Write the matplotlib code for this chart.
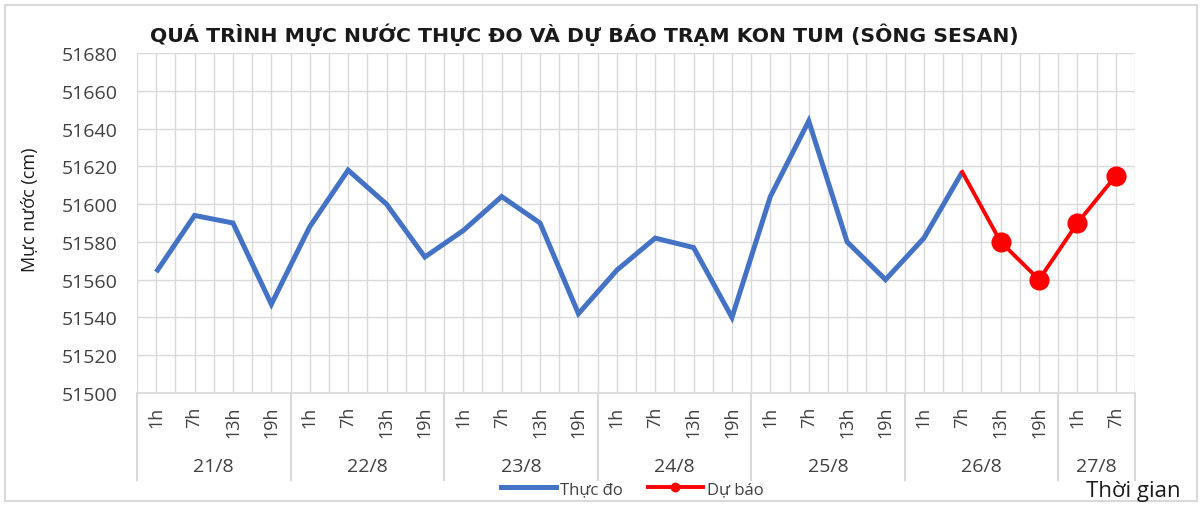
import matplotlib
matplotlib.use('Agg')
import matplotlib.pyplot as plt
import matplotlib.transforms as mtransforms
from matplotlib.lines import Line2D
from matplotlib.patches import Rectangle
import numpy as np

plt.rcParams['font.family'] = ['Open Sans', 'DejaVu Sans']

# ---- data ----
days = ['21/8', '22/8', '23/8', '24/8', '25/8', '26/8', '27/8']
hours_per_day = [4, 4, 4, 4, 4, 4, 2]
hours = ['1h', '7h', '13h', '19h'] * 6 + ['1h', '7h']
observed = [51564, 51594, 51590, 51547,
            51588, 51618, 51600, 51572,
            51586, 51604, 51590, 51542,
            51565, 51582, 51577, 51540,
            51604, 51644, 51580, 51560,
            51582, 51617]
forecast = [51617, 51580, 51560, 51590, 51615]   # starts at 26/8 7h
forecast_start = 21

title = 'QUÁ TRÌNH MỰC NƯỚC THỰC ĐO VÀ DỰ BÁO TRẠM KON TUM (SÔNG SESAN)'
ylabel = 'Mực nước (cm)'
xlabel = 'Thời gian'
legend_labels = ['Thực đo', 'Dự báo']

blue = '#4472C4'
red = '#FF0000'
grid_c = '#D9D9D9'
text_c = '#404040'

W, H = 1203, 506
fig = plt.figure(figsize=(W / 100, H / 100), dpi=100)
left, right, top, bottom = 137, 1135, 54, 394
ax = fig.add_axes([left / W, 1 - bottom / H, (right - left) / W, (bottom - top) / H])

n = len(hours)
ax.set_xlim(-0.5, n - 0.5)
ax.set_ylim(51500, 51680)
ax.set_yticks(np.arange(51500, 51681, 20))

ax.set_xticks(np.arange(n))
ax.set_xticklabels(hours, rotation=90, va='top', ha='center', fontsize=13, color=text_c)
ax.set_xticks(np.arange(-0.5, n, 1.0), minor=True)
ax.tick_params(axis='x', which='both', length=0, pad=9)
ax.tick_params(axis='y', length=0, pad=14, labelsize=14, labelcolor=text_c)

ax.grid(True, which='both', axis='x', color=grid_c, lw=1.0)
ax.grid(True, which='major', axis='y', color=grid_c, lw=1.0)
ax.set_axisbelow(True)
for s in ['top', 'right', 'left']:
    ax.spines[s].set_visible(False)
ax.spines['bottom'].set_color(grid_c)
ax.spines['bottom'].set_linewidth(1.2)

ax.plot(np.arange(len(observed)), observed, color=blue, lw=3.6, solid_joinstyle='miter',
        solid_capstyle='butt', zorder=3)
fx = np.arange(forecast_start, forecast_start + len(forecast))
ax.plot(fx, forecast, color=red, lw=2.8, marker='o', markersize=13.5,
        markevery=list(range(1, len(forecast))), zorder=4)

# day labels and separators
trans = mtransforms.blended_transform_factory(ax.transData, ax.transAxes)
pos = -0.5
bounds = [pos]
for d, k in zip(days, hours_per_day):
    ax.text(pos + k / 2, (bottom - 467) / (bottom - top), d, transform=trans,
            ha='center', va='center', fontsize=14, color=text_c)
    pos += k
    bounds.append(pos)
ysep = (bottom - 481) / (bottom - top)
for b in bounds:
    ax.plot([b, b], [0, ysep], transform=trans, color=grid_c, lw=1.5, clip_on=False)

fig.text(584 / W, 1 - 35 / H, title, ha='center', va='center', fontsize=14.7,
         fontweight='bold', color='#1a1a1a', family=['DejaVu Sans'])
fig.text(30 / W, 1 - 210 / H, ylabel, ha='center', va='center', rotation=90,
         fontsize=13, color='#1a1a1a')
fig.text(1133 / W, 1 - 492 / H, xlabel, ha='center', va='center', fontsize=16,
         color='#1a1a1a')

handles = [Line2D([], [], color=blue, lw=3.6),
           Line2D([], [], color=red, lw=2.8, marker='o', markersize=6)]
fig.legend(handles, legend_labels, loc='center', bbox_to_anchor=(632 / W, 1 - 490 / H),
           ncol=2, frameon=False, fontsize=12, handlelength=3.3, handletextpad=0.25,
           columnspacing=1.5, labelcolor=text_c)

fig.patches.append(Rectangle((5 / W, 4 / H), (1197 - 5) / W, (501 - 5) / H,
                             transform=fig.transFigure, fill=False,
                             edgecolor=grid_c, lw=1.5))

fig.savefig('out.png', dpi=100)
